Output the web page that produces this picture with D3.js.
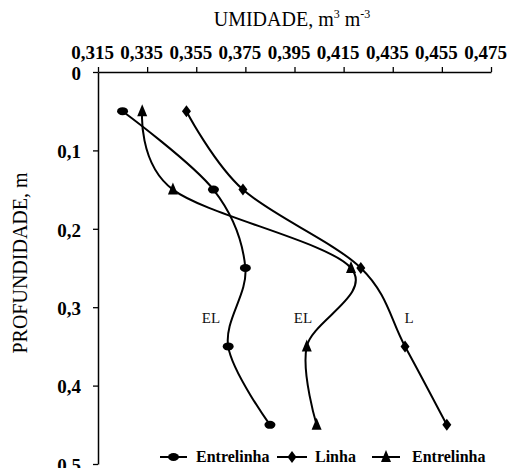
<!DOCTYPE html>
<html><head><meta charset="utf-8">
<script src="https://cdn.jsdelivr.net/npm/d3@7"></script>
<style>
body{margin:0;background:#fff;}
svg{display:block;font-family:"Liberation Serif","Times New Roman",serif;}
</style></head>
<body><svg id="c" width="514" height="468"></svg>
<script>
const depths = [0.05, 0.15, 0.25, 0.35, 0.45];
const entrelinhaA = [0.325, 0.362, 0.375, 0.368, 0.385];
const linha = [0.351, 0.374, 0.422, 0.440, 0.457];
const entrelinhaB = [0.333, 0.3455, 0.418, 0.400, 0.404];
const xTicks = [0.315, 0.335, 0.355, 0.375, 0.395, 0.415, 0.435, 0.455, 0.475];
const yTicks = [0, 0.1, 0.2, 0.3, 0.4, 0.5];
const seriesNames = ["Entrelinha", "Linha", "Entrelinha"];
const curveLabels = ["EL", "EL", "L"];

const svg = d3.select("#c");
const x = d3.scaleLinear().domain([0.315, 0.475]).range([98, 491]);
const y = d3.scaleLinear().domain([0, 0.5]).range([72, 464]);

// x axis (top)
const gx = svg.append("g").attr("transform", "translate(0,72)")
  .call(d3.axisTop(x).tickValues(xTicks).tickSize(5).tickSizeOuter(0)
    .tickFormat(v => d3.format(".3f")(v).replace(".", ",")));
gx.select(".domain").attr("stroke", "#000").attr("stroke-width", 1.5);
gx.selectAll(".tick line").attr("stroke", "#000").attr("stroke-width", 1.3);
gx.selectAll(".tick text").attr("font-family", "Liberation Serif").attr("font-weight", "bold")
  .attr("font-size", 19).attr("fill", "#000").attr("dy", 0).attr("y", -13).attr("dx", -6);

// y axis (left)
const gy = svg.append("g").attr("transform", "translate(98,0)")
  .call(d3.axisLeft(y).tickValues(yTicks).tickSize(5).tickSizeOuter(0)
    .tickFormat(v => v === 0 ? "0" : d3.format(".1f")(v).replace(".", ",")));
gy.select(".domain").attr("stroke", "#000").attr("stroke-width", 1.5);
gy.selectAll(".tick line").attr("stroke", "#000").attr("stroke-width", 1.3);
gy.selectAll(".tick text").attr("font-family", "Liberation Serif").attr("font-weight", "bold")
  .attr("font-size", 19).attr("fill", "#000").attr("x", -17).attr("dy", "0.38em");

// titles
const t = svg.append("text").attr("x", 292).attr("y", 26).attr("text-anchor", "middle")
  .attr("font-size", 20).attr("fill", "#000");
t.append("tspan").text("UMIDADE, m");
t.append("tspan").text("3").attr("font-size", 12).attr("dy", -8);
t.append("tspan").text(" m").attr("dy", 8);
t.append("tspan").text("-3").attr("font-size", 12).attr("dy", -8);

svg.append("text").attr("transform", "translate(27,263) rotate(-90)").attr("text-anchor", "middle")
  .attr("font-size", 20).attr("fill", "#000").text("PROFUNDIDADE, m");

// series
const series = [
  {vals: entrelinhaA, shape: "circle"},
  {vals: linha, shape: "diamond"},
  {vals: entrelinhaB, shape: "triangle"}
];
const line = d3.line().x(d => x(d[0])).y(d => y(d[1])).curve(d3.curveCatmullRom.alpha(0));

function marker(g, shape, cx, cy) {
  if (shape === "circle") g.append("ellipse").attr("cx", cx).attr("cy", cy).attr("rx", 5.5).attr("ry", 4).attr("fill", "#000");
  else if (shape === "diamond") g.append("path").attr("d", `M${cx},${cy-6}L${cx+4.5},${cy}L${cx},${cy+6}L${cx-4.5},${cy}Z`).attr("fill", "#000");
  else g.append("path").attr("d", `M${cx},${cy-7}L${cx+5},${cy+5}L${cx-5},${cy+5}Z`).attr("fill", "#000");
}

series.forEach(s => {
  const pts = s.vals.map((v, i) => [v, depths[i]]);
  svg.append("path").attr("d", line(pts)).attr("fill", "none").attr("stroke", "#000").attr("stroke-width", 2);
  const g = svg.append("g");
  pts.forEach(p => marker(g, s.shape, x(p[0]), y(p[1])));
});

// curve labels
const labelPos = [[211, 323], [303, 323], [409, 323]];
curveLabels.forEach((l, i) => svg.append("text").attr("x", labelPos[i][0]).attr("y", labelPos[i][1])
  .attr("text-anchor", "middle").attr("font-size", 15).attr("fill", "#111").text(l));

// legend
const legX = [[160, 187, 196], [277, 307, 315], [372, 400, 412]];
const legY = 457;
seriesNames.forEach((n, i) => {
  const [a, b, tx] = legX[i];
  svg.append("line").attr("x1", a).attr("x2", b).attr("y1", legY).attr("y2", legY).attr("stroke", "#000").attr("stroke-width", 2);
  marker(svg, series[i].shape, (a + b) / 2, legY);
  svg.append("text").attr("x", tx).attr("y", legY + 5).attr("font-size", 16).attr("font-weight", "bold").attr("fill", "#000").text(n);
});
</script></body></html>
